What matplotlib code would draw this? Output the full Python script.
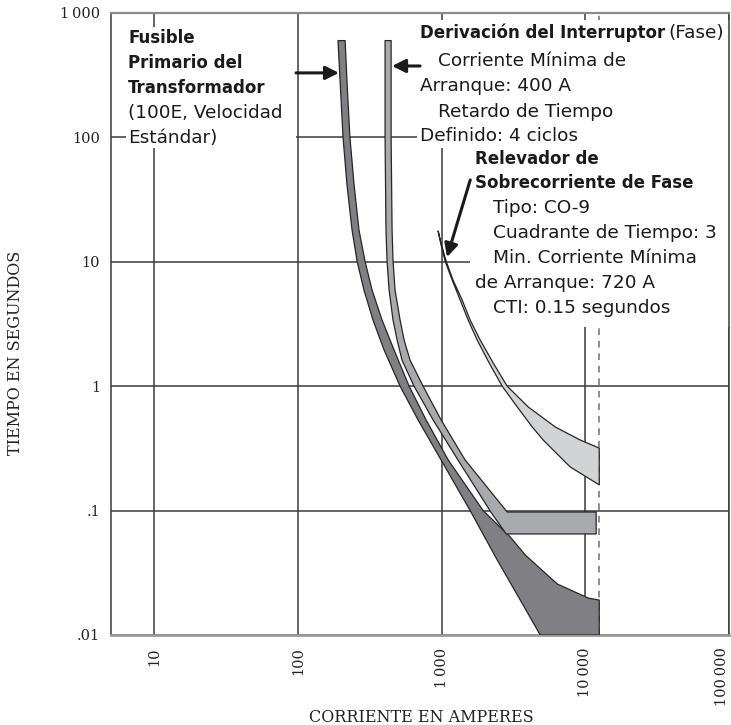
import matplotlib
matplotlib.use('Agg')
import matplotlib.pyplot as plt
from matplotlib.patches import Rectangle
from matplotlib.transforms import ScaledTranslation

# data (amperes, seconds)
# transformer primary fuse: minimum melt (left) and total clearing (right)
fuse_min_I = [190, 198, 206, 219.5, 238, 258, 288, 333, 398, 514, 686, 992, 1580, 2437, 3524, 4858]
fuse_min_t = [600, 240, 100, 41.4, 18, 10.1, 5.93, 3.40, 1.95, 1.0, 0.535, 0.255, 0.1, 0.0401, 0.0191, 0.01]
fuse_clr_I = [213, 221, 230, 246, 266, 293, 328, 385, 467, 594, 780, 1112, 1945, 3002, 3818, 6381,
              10500, 12500, 12500]
fuse_clr_t = [600, 240, 100, 41.4, 18, 10.1, 5.93, 3.40, 1.95, 1.0, 0.535, 0.255, 0.1, 0.0614, 0.044,
              0.0257, 0.0198, 0.0191, 0.01]

# breaker (phase)
brk_lo_I = [404, 404, 410, 417, 431, 459, 490, 530, 643, 873, 1300, 2200, 2815, 11900]
brk_lo_t = [600, 100, 18, 10.1, 5.93, 3.40, 2.35, 1.62, 1.0, 0.535, 0.255, 0.0974, 0.0649, 0.0649]
brk_hi_I = [445, 445, 452, 459, 474, 514, 548, 603, 743, 992, 1458, 2860, 11900]
brk_hi_t = [600, 100, 18, 10.1, 5.93, 3.40, 2.35, 1.62, 1.0, 0.535, 0.255, 0.0974, 0.0974]

# phase overcurrent relay CO-9
rel_lo_I = [945, 992, 1058, 1184, 1346, 1530, 1768, 2143, 2640, 3360, 4272, 5097, 7861, 12500]
rel_lo_t = [17.7, 13.6, 10.1, 7.14, 4.93, 3.40, 2.35, 1.537, 1.0, 0.681, 0.470, 0.369, 0.224, 0.161]
rel_hi_I = [945, 1000, 1075, 1200, 1390, 1580, 1855, 2285, 2860, 4007, 6178, 9231, 12500]
rel_hi_t = [17.7, 13.6, 10.1, 7.14, 4.93, 3.40, 2.35, 1.537, 1.0, 0.681, 0.470, 0.369, 0.318]

fault_I = 12500

x_ticks = [10, 100, 1000, 10000, 100000]
x_labels = ['10', '100', '1\u2009000', '10\u2009000', '100\u2009000']
y_ticks = [0.01, 0.1, 1, 10, 100, 1000]
y_labels = ['.01', '.1', '1', '10', '100', '1\u2009000']

SANS = 'DejaVu Sans'
SERIF = 'DejaVu Serif'

fig = plt.figure(figsize=(7.31, 7.25), dpi=100)
ax = fig.add_axes([111 / 731, 1 - 635 / 725, 618 / 731, 622 / 725])
ax.set_xscale('log')
ax.set_yscale('log')
ax.set_xlim(5, 100000)
ax.set_ylim(0.01, 1000)
ax.minorticks_off()
ax.set_xticks(x_ticks)
ax.set_xticklabels(x_labels, rotation=90, family=SERIF, fontsize=10.5)
ax.set_yticks(y_ticks)
ax.set_yticklabels(y_labels, family=SERIF, fontsize=10.5)
ax.tick_params(length=0, colors='#222222')
ax.tick_params(axis='x', pad=9)
ax.tick_params(axis='y', pad=8)
ax.grid(True, color='#3a3a3a', lw=1.1, zorder=1)
ax.set_axisbelow(True)

# keep the last x label inside the picture
last = ax.get_xticklabels()[-1]
last.set_transform(last.get_transform() + ScaledTranslation(-7 / 100, 0, fig.dpi_scale_trans))

for s in ['left', 'right']:
    ax.spines[s].set_color('#3a3a3a')
    ax.spines[s].set_linewidth(1.1)
ax.spines['top'].set_color('#8a8a8a')
ax.spines['top'].set_linewidth(1.6)
ax.spines['bottom'].set_color('#9a9a9a')
ax.spines['bottom'].set_linewidth(2)

ax.set_xlabel('CORRIENTE EN AMPERES', family=SERIF, fontsize=11.5, color='#222222')
ax.set_ylabel('TIEMPO EN SEGUNDOS', family=SERIF, fontsize=11.5, color='#222222')
ax.xaxis.label.set_va('center')
ax.yaxis.label.set_va('center')
ax.xaxis.set_label_coords(0.502, -0.132)
ax.yaxis.set_label_coords(-0.155, 0.453)


def px(x, y):
    # figure pixel position -> axes fraction
    return (x - 111) / 618, 1 - (y - 13) / 622


# white backgrounds behind the text blocks
for (x0, y0, x1, y1) in [(126, 27, 296, 148), (417, 20, 729, 148), (470, 148, 729, 327)]:
    a0 = px(x0, y1)
    a1 = px(x1, y0)
    ax.add_patch(Rectangle(a0, a1[0] - a0[0], a1[1] - a0[1], transform=ax.transAxes,
                           facecolor='white', edgecolor='none', zorder=2))

ax.axvline(fault_I, color='#7a7a7a', ls=(0, (4, 3.5)), lw=1.2, zorder=1.5)


def band(lo_I, lo_t, hi_I, hi_t, color):
    xs = list(lo_I) + list(hi_I)[::-1]
    ys = list(lo_t) + list(hi_t)[::-1]
    ax.fill(xs, ys, facecolor=color, edgecolor='#262626', lw=0.9, joinstyle='round', zorder=3)


band(fuse_min_I, fuse_min_t, fuse_clr_I, fuse_clr_t, '#808084')
band(brk_lo_I, brk_lo_t, brk_hi_I, brk_hi_t, '#a9aaad')
band(rel_lo_I, rel_lo_t, rel_hi_I, rel_hi_t, '#d2d3d5')

# arrows
arrow = dict(arrowstyle='-|>', color='#1a1a1a', lw=2.2, mutation_scale=20, shrinkA=0, shrinkB=0)
ax.annotate('', xy=(193, 330), xytext=(97, 330), arrowprops=arrow, zorder=4)
ax.annotate('', xy=(452, 375), xytext=(708, 375), arrowprops=arrow, zorder=4)
ax.annotate('', xy=(1090, 10.9), xytext=(1582, 45.5), arrowprops=arrow, zorder=4)

# text blocks
fs_b = 12
fs_n = 13.3
left_lines = [('Fusible', 'bold', 128, 38), ('Primario del', 'bold', 128, 63),
              ('Transformador', 'bold', 128, 88), ('(100E, Velocidad', 'normal', 128, 113),
              ('Estándar)', 'normal', 128, 138)]
right_lines = [('Corriente Mínima de', 'normal', 438, 61), ('Arranque: 400 A', 'normal', 420, 86),
               ('Retardo de Tiempo', 'normal', 438, 112), ('Definido: 4 ciclos', 'normal', 420, 136),
               ('Relevador de', 'bold', 475, 159), ('Sobrecorriente de Fase', 'bold', 475, 183),
               ('Tipo: CO-9', 'normal', 493, 208), ('Cuadrante de Tiempo: 3', 'normal', 493, 233),
               ('Min. Corriente Mínima', 'normal', 493, 258), ('de Arranque: 720 A', 'normal', 475, 283),
               ('CTI: 0.15 segundos', 'normal', 493, 308)]
for txt, w, x, y in left_lines + right_lines:
    ax.text(*px(x, y), txt, transform=ax.transAxes, family=SANS,
            fontsize=fs_b if w == 'bold' else fs_n, fontweight=w,
            ha='left', va='center', color='#1a1a1a', zorder=5)

t1 = ax.text(*px(420, 33), 'Derivación del Interruptor', transform=ax.transAxes, family=SANS,
             fontsize=fs_b, fontweight='bold', ha='left', va='center', color='#1a1a1a', zorder=5)
ax.annotate('(Fase)', xy=(1, 0.5), xycoords=t1, xytext=(2, 0), textcoords='offset points',
            family=SANS, fontsize=fs_n, ha='left', va='center', color='#1a1a1a', zorder=5)

plt.savefig('out.png', dpi=100)
plt.close('all')
